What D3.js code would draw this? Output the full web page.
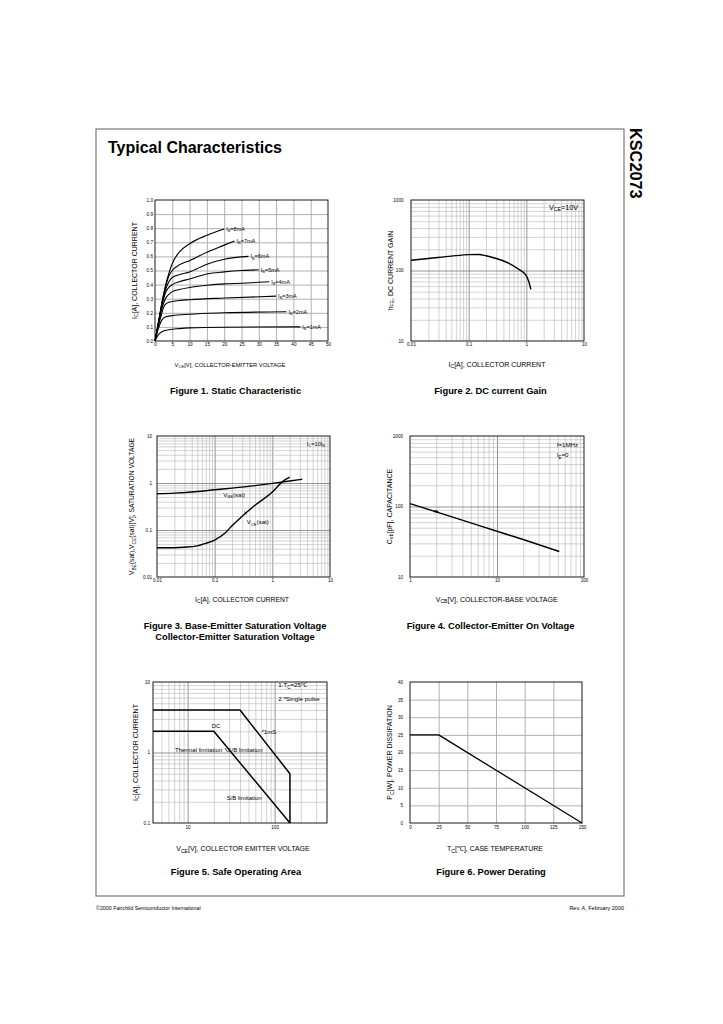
<!DOCTYPE html>
<html><head><meta charset="utf-8">
<script src="https://cdn.jsdelivr.net/npm/d3@7"></script>
<style>
body{margin:0;background:#fff}
svg{display:block}
text{font-family:"Liberation Sans",Arial,Helvetica,sans-serif;fill:#000}
</style>
</head><body>
<svg id="page" width="723" height="1024"></svg>
<script>
// ================= DATA =================
// Figure 1 : Static characteristic (Ic vs Vce)
const fig1XTicks = [0, 5, 10, 15, 20, 25, 30, 35, 40, 45, 50];
const fig1XTickLabels = ["0", "5", "10", "15", "20", "25", "30", "35", "40", "45", "50"];
const fig1YTicks = [0, 0.1, 0.2, 0.3, 0.4, 0.5, 0.6, 0.7, 0.8, 0.9, 1.0];
const fig1YTickLabels = ["0.0", "0.1", "0.2", "0.3", "0.4", "0.5", "0.6", "0.7", "0.8", "0.9", "1.0"];
const fig1CurveLabels = ["I_{B}=1mA", "I_{B}=2mA", "I_{B}=3mA", "I_{B}=4mA", "I_{B}=5mA", "I_{B}=6mA", "I_{B}=7mA", "I_{B}=8mA"];
const ib1mA = [[0,0],[1,0.045],[2,0.066],[4,0.08],[7,0.088],[10,0.093],[20,0.098],[42,0.1]];
const ib2mA = [[0,0],[1,0.09],[2,0.15],[3,0.17],[5,0.18],[10,0.19],[20,0.2],[38,0.207]];
const ib3mA = [[0,0],[1,0.11],[2,0.2],[2.5,0.24],[3,0.26],[4,0.275],[5,0.28],[7,0.287],[10,0.293],[20,0.305],[35,0.318]];
const ib4mA = [[0,0],[1,0.12],[2,0.23],[3,0.3],[4,0.33],[5,0.35],[7,0.365],[10,0.38],[15,0.395],[20,0.405],[25,0.41],[33,0.42]];
const ib5mA = [[0,0],[1,0.13],[2,0.25],[3,0.34],[4,0.38],[5,0.4],[7,0.42],[10,0.44],[15,0.475],[20,0.49],[25,0.5],[30,0.505]];
const ib6mA = [[0,0],[1,0.13],[2,0.26],[3,0.36],[4,0.42],[5,0.45],[7,0.47],[10,0.49],[15,0.545],[20,0.58],[27,0.6]];
const ib7mA = [[0,0],[1,0.13],[2,0.27],[3,0.38],[4,0.46],[5,0.5],[7,0.54],[10,0.57],[15,0.63],[20,0.68],[23,0.71]];
const ib8mA = [[0,0],[1,0.13],[2,0.27],[3,0.39],[4,0.48],[5,0.55],[7,0.63],[10,0.69],[15,0.75],[20,0.795]];

// Figure 2 : DC current gain
const fig2XTicks = [0.01, 0.1, 1, 10];
const fig2XTickLabels = ["0.01", "0.1", "1", "10"];
const fig2YTicks = [10, 100, 1000];
const fig2YTickLabels = ["10", "100", "1000"];
const hfeCurve = [[0.01,140],[0.02,148],[0.05,160],[0.1,168],[0.15,169],[0.2,162],[0.3,148],[0.5,126],[0.7,107],[0.9,93],[1.0,84],[1.1,70],[1.2,54]];

// Figure 3 : saturation voltages
const fig3XTicks = [0.01, 0.1, 1, 10];
const fig3XTickLabels = ["0.01", "0.1", "1", "10"];
const fig3YTicks = [0.01, 0.1, 1, 10];
const fig3YTickLabels = ["0.01", "0.1", "1", "10"];
const vbeSat = [[0.01,0.59],[0.02,0.61],[0.05,0.66],[0.1,0.72],[0.2,0.78],[0.5,0.88],[1,0.98],[2,1.1],[3.3,1.2]];
const vceSat = [[0.01,0.042],[0.02,0.042],[0.03,0.043],[0.05,0.046],[0.07,0.052],[0.1,0.061],[0.15,0.085],[0.2,0.123],[0.3,0.197],[0.5,0.335],[1,0.64],[1.5,1.07],[2,1.33]];

// Figure 4 : output capacitance
const fig4XTicks = [1, 10, 100];
const fig4XTickLabels = ["1", "10", "100"];
const fig4YTicks = [10, 100, 1000];
const fig4YTickLabels = ["10", "100", "1000"];
const cobCurve = [[1,110],[2,84],[5,58.5],[10,44.5],[20,34],[52,23]];

// Figure 5 : safe operating area
const fig5XTicks = [10, 100];
const fig5XTickLabels = ["10", "100"];
const fig5YTicks = [0.1, 1, 10];
const fig5YTickLabels = ["0.1", "1", "10"];
const soa1ms = [[4,4],[40,4],[150,0.5],[150,0.1]];
const soaDC = [[4,2],[20,2],[150,0.1]];

// Figure 6 : power derating
const fig6XTicks = [0, 25, 50, 75, 100, 125, 150];
const fig6XTickLabels = ["0", "25", "50", "75", "100", "125", "150"];
const fig6YTicks = [0, 5, 10, 15, 20, 25, 30, 35, 40];
const fig6YTickLabels = ["0", "5", "10", "15", "20", "25", "30", "35", "40"];
const pdCurve = [[0,25],[25,25],[150,0]];

// ================= DRAWING =================
const FONT = '"Liberation Sans", Arial, Helvetica, sans-serif';
const svg = d3.select("#page");

function richText(sel, str, fs) {
  const parts = []; const re = /_\{([^}]*)\}/g; let last = 0, m;
  while ((m = re.exec(str))) {
    if (m.index > last) parts.push([str.slice(last, m.index), false]);
    parts.push([m[1], true]); last = re.lastIndex;
  }
  if (last < str.length) parts.push([str.slice(last), false]);
  let shift = 0;
  parts.forEach(([t, sub]) => {
    const ts = sel.append("tspan").text(t);
    const target = sub ? fs * 0.25 : 0;
    if (target !== shift) { ts.attr("dy", target - shift); shift = target; }
    if (sub) ts.attr("font-size", fs * 0.72);
  });
}
function label(g, x, y, str, fs, opts = {}) {
  const t = g.append("text").attr("x", x).attr("y", y).attr("font-size", fs);
  if (opts.anchor) t.attr("text-anchor", opts.anchor);
  if (opts.weight) t.attr("font-weight", opts.weight);
  if (opts.rotate) t.attr("transform", `rotate(${opts.rotate},${x},${y})`);
  richText(t, str, fs);
  return t;
}
function logMinor(lo, hi) {
  const v = [];
  for (let e = Math.floor(Math.log10(lo)); e < Math.ceil(Math.log10(hi)); e++)
    for (let k = 2; k <= 9; k++) { const val = +(k * Math.pow(10, e)).toPrecision(6); if (val > lo * 1.0001 && val < hi * 0.9999) v.push(val); }
  return v;
}
function logMajor(lo, hi) {
  const v = [];
  for (let e = Math.ceil(Math.log10(lo)); e <= Math.floor(Math.log10(hi)); e++) { const val = Math.pow(10, e); if (val > lo * 1.0001 && val < hi * 0.9999) v.push(val); }
  return v;
}

function chart(c) {
  const g = svg.append("g").attr("transform", `translate(${c.x},${c.y})`);
  const x = (c.xLog ? d3.scaleLog() : d3.scaleLinear()).domain(c.xDomain).range([0, c.w]);
  const y = (c.yLog ? d3.scaleLog() : d3.scaleLinear()).domain(c.yDomain).range([c.h, 0]);
  const grid = (vals, axisFn, len, color, sw, tr) => {
    const a = g.append("g").attr("transform", tr).call(axisFn.tickValues(vals).tickSize(-len).tickFormat(""));
    a.select(".domain").remove();
    a.selectAll("line").attr("stroke", color).attr("stroke-width", sw);
  };
  if (c.xLog) {
    grid(logMinor(...c.xDomain), d3.axisBottom(x), c.h, "#b5b5b5", 0.6, `translate(0,${c.h})`);
    grid(logMajor(...c.xDomain), d3.axisBottom(x), c.h, "#7a7a7a", 0.8, `translate(0,${c.h})`);
  } else {
    grid(c.xTicks.slice(1, -1), d3.axisBottom(x), c.h, "#a8a8a8", 0.9, `translate(0,${c.h})`);
  }
  if (c.yLog) {
    grid(logMinor(...c.yDomain), d3.axisLeft(y), c.w, "#b5b5b5", 0.6, "translate(0,0)");
    grid(logMajor(...c.yDomain), d3.axisLeft(y), c.w, "#7a7a7a", 0.8, "translate(0,0)");
  } else {
    grid(c.yTicks.slice(1, -1), d3.axisLeft(y), c.w, "#a8a8a8", 0.9, "translate(0,0)");
  }
  g.append("rect").attr("width", c.w).attr("height", c.h).attr("fill", "none").attr("stroke", "#000").attr("stroke-width", 0.9);
  const ax = g.append("g").attr("transform", `translate(0,${c.h})`)
    .call(d3.axisBottom(x).tickValues(c.xTicks).tickFormat((d, i) => c.xTickLabels[i]).tickSize(0).tickPadding(c.xPad));
  ax.select(".domain").remove();
  ax.attr("font-size", c.tickFs).attr("font-family", FONT);
  const ay = g.append("g")
    .call(d3.axisLeft(y).tickValues(c.yTicks).tickFormat((d, i) => c.yTickLabels[i]).tickSize(0).tickPadding(c.yPad));
  ay.select(".domain").remove();
  ay.attr("font-size", c.tickFs).attr("font-family", FONT);
  g.selectAll(".tick text").attr("fill", "#000");
  // axis titles (absolute coords)
  label(svg, c.xLabelX, c.xLabelY, c.xLabel, c.xLabelFs || 7, { anchor: "middle" });
  label(svg, c.yLabelX, c.y + c.h / 2, c.yLabel, c.yLabelFs || 7, { anchor: "middle", rotate: -90 });
  return { g, x, y };
}
function drawLine(ch, data, sw, curve) {
  ch.g.append("path").datum(data)
    .attr("fill", "none").attr("stroke", "#000").attr("stroke-width", sw).attr("stroke-linejoin", "round")
    .attr("d", d3.line().x(d => ch.x(d[0])).y(d => ch.y(d[1])).curve(curve || d3.curveLinear));
}

// ---- page furniture ----
svg.append("rect").attr("x", 96).attr("y", 129).attr("width", 528).attr("height", 767)
  .attr("fill", "none").attr("stroke", "#777").attr("stroke-width", 1.2);
label(svg, 108, 153, "Typical Characteristics", 16, { weight: "bold" });
label(svg, 630, 128, "KSC2073", 16.3, { weight: "bold", rotate: 90 });
label(svg, 96, 910, "©2000 Fairchild Semiconductor International", 5.3);
label(svg, 624, 910, "Rev. A, February 2000", 5.5, { anchor: "end" });

// ---- Figure 1 ----
const c1 = chart({
  x: 155, y: 200, w: 173, h: 141, xDomain: [0, 50], yDomain: [0, 1],
  xTicks: fig1XTicks, xTickLabels: fig1XTickLabels, yTicks: fig1YTicks, yTickLabels: fig1YTickLabels,
  tickFs: 4.6, xPad: 1.5, yPad: 2,
  xLabel: "V_{CE}[V], COLLECTOR-EMITTER VOLTAGE", xLabelX: 230, xLabelY: 366.5, xLabelFs: 5.8,
  yLabel: "I_{C}[A], COLLECTOR CURRENT", yLabelX: 136.5
});
const fig1Series = [ib1mA, ib2mA, ib3mA, ib4mA, ib5mA, ib6mA, ib7mA, ib8mA];
fig1Series.forEach((s, i) => {
  drawLine(c1, s, 1.1, d3.curveMonotoneX);
  const e = s[s.length - 1];
  label(c1.g, c1.x(e[0]) + 2, c1.y(e[1]) + 1.9, fig1CurveLabels[i], 5.5);
});
label(svg, 235.5, 394, "Figure 1. Static Characteristic", 9.3, { anchor: "middle", weight: "bold" });

// ---- Figure 2 ----
const c2 = chart({
  x: 411, y: 200, w: 173, h: 141, xLog: true, yLog: true, xDomain: [0.01, 10], yDomain: [10, 1000],
  xTicks: fig2XTicks, xTickLabels: fig2XTickLabels, yTicks: fig2YTicks, yTickLabels: fig2YTickLabels,
  tickFs: 4.6, xPad: 1.5, yPad: 7.5,
  xLabel: "I_{C}[A], COLLECTOR CURRENT", xLabelX: 497, xLabelY: 366.5,
  yLabel: "h_{FE}, DC CURRENT GAIN", yLabelX: 392.5
});
drawLine(c2, hfeCurve, 1.4, d3.curveMonotoneX);
label(c2.g, 173 - 6, 9.5, "V_{CE}=10V", 7.2, { anchor: "end" });
label(svg, 490.5, 394, "Figure 2. DC current Gain", 9.3, { anchor: "middle", weight: "bold" });

// ---- Figure 3 ----
const c3 = chart({
  x: 157, y: 436, w: 173, h: 141, xLog: true, yLog: true, xDomain: [0.01, 10], yDomain: [0.01, 10],
  xTicks: fig3XTicks, xTickLabels: fig3XTickLabels, yTicks: fig3YTicks, yTickLabels: fig3YTickLabels,
  tickFs: 4.6, xPad: 2, yPad: 5,
  xLabel: "I_{C}[A], COLLECTOR CURRENT", xLabelX: 242, xLabelY: 601.5, xLabelFs: 6.8,
  yLabel: "V_{BE}(sat),V_{CE}(sat)[V], SATURATION VOLTAGE", yLabelX: 134, yLabelFs: 6.7
});
drawLine(c3, vbeSat, 1.4, d3.curveMonotoneX);
drawLine(c3, vceSat, 1.4, d3.curveMonotoneX);
label(c3.g, 173 - 5, 9.5, "I_{C}=10I_{B}", 5.6, { anchor: "end" });
label(c3.g, 66.3, 60.5, "V_{BE}(sat)", 6, {});
label(c3.g, 89.7, 88, "V_{CE}(sat)", 6, {});
c3.g.append("line").attr("x1", 87.5).attr("y1", 75.5).attr("x2", 89.5).attr("y2", 78.5).attr("stroke", "#000").attr("stroke-width", 0.8);
label(svg, 235, 629, "Figure 3. Base-Emitter Saturation Voltage", 9.3, { anchor: "middle", weight: "bold" });
label(svg, 235, 640, "Collector-Emitter Saturation Voltage", 9.3, { anchor: "middle", weight: "bold" });

// ---- Figure 4 ----
const c4 = chart({
  x: 410, y: 436, w: 174, h: 141, xLog: true, yLog: true, xDomain: [1, 100], yDomain: [10, 1000],
  xTicks: fig4XTicks, xTickLabels: fig4XTickLabels, yTicks: fig4YTicks, yTickLabels: fig4YTickLabels,
  tickFs: 4.6, xPad: 2, yPad: 7,
  xLabel: "V_{CB}[V], COLLECTOR-BASE VOLTAGE", xLabelX: 496.7, xLabelY: 601.5,
  yLabel: "C_{ob}[pF], CAPACITANCE", yLabelX: 391.5
});
drawLine(c4, cobCurve, 1.4, d3.curveMonotoneX);
c4.g.append("line").attr("x1", c4.x(2) - 2).attr("y1", c4.y(84) - 0.8).attr("x2", c4.x(2) + 2).attr("y2", c4.y(84) + 0.2).attr("stroke", "#000").attr("stroke-width", 2);
label(c4.g, 146.7, 11, "f=1MHz", 6.2, {});
label(c4.g, 146.7, 21, "I_{E}=0", 6.2, {});
label(svg, 490.5, 629, "Figure 4. Collector-Emitter On Voltage", 9.3, { anchor: "middle", weight: "bold" });

// ---- Figure 5 ----
const c5 = chart({
  x: 153, y: 682, w: 174, h: 141, xLog: true, yLog: true, xDomain: [4, 400], yDomain: [0.1, 10],
  xTicks: fig5XTicks, xTickLabels: fig5XTickLabels, yTicks: fig5YTicks, yTickLabels: fig5YTickLabels,
  tickFs: 4.6, xPad: 3, yPad: 3,
  xLabel: "V_{CE}[V], COLLECTOR EMITTER VOLTAGE", xLabelX: 243, xLabelY: 851,
  yLabel: "I_{C}[A], COLLECTOR CURRENT", yLabelX: 137.5
});
drawLine(c5, soa1ms, 1.5);
drawLine(c5, soaDC, 1.5);
label(c5.g, 125.3, 5, "1.T_{C}=25℃", 6.2, {});
label(c5.g, 125.3, 19, "2.*Single pulse", 6.2, {});
label(c5.g, 58.7, 46, "DC", 6, {});
label(c5.g, 108.7, 52, "*1mS", 6, {});
label(c5.g, 22, 70, "Thermal limitation", 6, {});
label(c5.g, 74.5, 70, "S/B limitation", 6, {});
c5.g.append("line").attr("x1", 72).attr("y1", 66).attr("x2", 74.5).attr("y2", 70).attr("stroke", "#000").attr("stroke-width", 0.7);
label(c5.g, 73.7, 117.5, "S/B limitation", 6, {});
label(svg, 236, 875, "Figure 5. Safe Operating Area", 9.3, { anchor: "middle", weight: "bold" });

// ---- Figure 6 ----
const c6 = chart({
  x: 410, y: 682, w: 172, h: 141, xDomain: [0, 150], yDomain: [0, 40],
  xTicks: fig6XTicks, xTickLabels: fig6XTickLabels, yTicks: fig6YTicks, yTickLabels: fig6YTickLabels,
  tickFs: 4.6, xPad: 3, yPad: 7,
  xLabel: "T_{C}[℃], CASE TEMPERATURE", xLabelX: 495, xLabelY: 851,
  yLabel: "P_{C}[W], POWER DISSIPATION", yLabelX: 392
});
drawLine(c6, pdCurve, 1.3);
label(svg, 491, 875, "Figure 6. Power Derating", 9.3, { anchor: "middle", weight: "bold" });
</script>
</body></html>
